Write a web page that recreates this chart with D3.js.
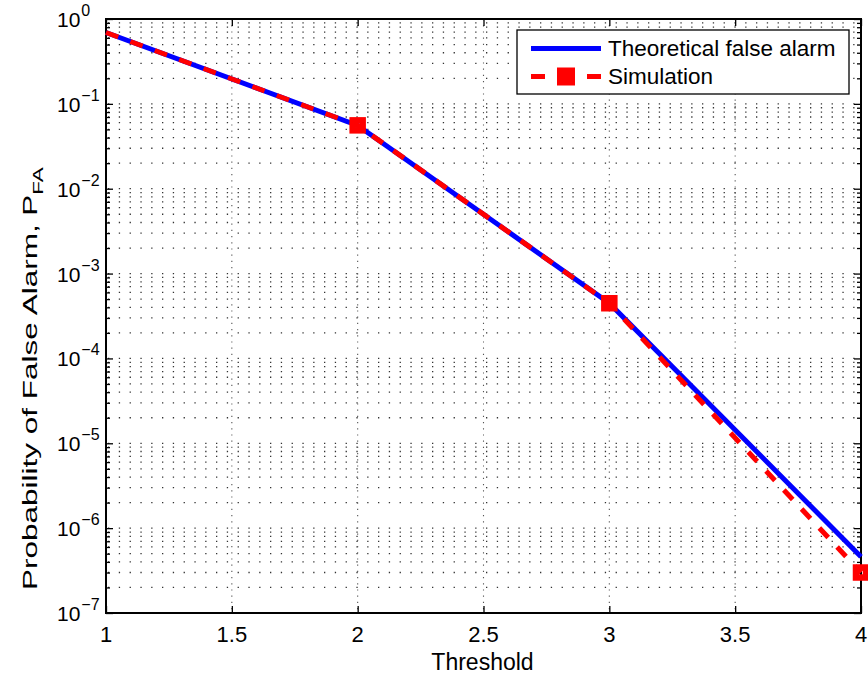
<!DOCTYPE html>
<html>
<head>
<meta charset="utf-8" />
<title>Probability of False Alarm</title>
<script src="https://d3js.org/d3.v7.min.js"></script>
<style>
  body { margin: 0; background: #fff; }
  text { font-family: "Liberation Sans", Arial, Helvetica, sans-serif; fill: #000; }
</style>
</head>
<body>
<div id="chart"></div>
<script>

// values
const thresholds = [1, 2, 3, 4];
const theoretical = [0.693, 0.0558, 4.47e-4, 4.6e-7];
const simulation = [0.693, 0.0558, 4.47e-4, 3.0e-7];
const markerThresholds = [2, 3, 4];
const xTicks = [1, 1.5, 2, 2.5, 3, 3.5, 4];
const yDecades = [0, -1, -2, -3, -4, -5, -6, -7];
const seriesNames = ["Theoretical false alarm", "Simulation"];

const W = 868, H = 679;
const margin = {top: 19, right: 7, bottom: 66, left: 106};
const width = W - margin.left - margin.right,
      height = H - margin.top - margin.bottom;

const svg = d3.select("#chart")
    .append("svg")
        .attr("width", W)
        .attr("height", H);

const x = d3.scaleLinear().domain([1, 4]).range([margin.left, margin.left + width]);
const y = d3.scaleLog().domain([1e-7, 1]).range([margin.top + height, margin.top]);

const yAll = y.ticks();
const isMajor = v => Math.abs(Math.log10(v) - Math.round(Math.log10(v))) < 1e-9;

// grid
const grid = svg.append("g");
grid.selectAll(".hg")
    .data(yAll)
    .join("line")
        .attr("x1", margin.left + 2).attr("x2", margin.left + width)
        .attr("y1", d => y(d)).attr("y2", d => y(d))
        .attr("stroke", "#333")
        .attr("stroke-width", 1.3)
        .attr("stroke-dasharray", "1.3,9.5");
grid.selectAll(".vg")
    .data(xTicks.slice(1, -1))
    .join("line")
        .attr("x1", d => x(d)).attr("x2", d => x(d))
        .attr("y1", margin.top).attr("y2", margin.top + height)
        .attr("stroke", "#555")
        .attr("stroke-width", 1.1)
        .attr("stroke-dasharray", "1.2,5");

// axes with inward ticks
const axes = svg.append("g");
axes.append("g")
    .attr("transform", `translate(0,${margin.top + height})`)
    .call(d3.axisBottom(x).tickValues(xTicks).tickSize(-7).tickFormat(""));
axes.append("g")
    .attr("transform", `translate(0,${margin.top})`)
    .call(d3.axisTop(x).tickValues(xTicks).tickSize(-7).tickFormat(""));
axes.append("g")
    .attr("transform", `translate(${margin.left},0)`)
    .call(d3.axisLeft(y).tickValues(yAll.filter(isMajor)).tickSize(-7).tickFormat(""));
axes.append("g")
    .attr("transform", `translate(${margin.left},0)`)
    .call(d3.axisLeft(y).tickValues(yAll.filter(v => !isMajor(v))).tickSize(-4).tickFormat(""));
axes.append("g")
    .attr("transform", `translate(${margin.left + width},0)`)
    .call(d3.axisRight(y).tickValues(yAll.filter(isMajor)).tickSize(-7).tickFormat(""));
axes.append("g")
    .attr("transform", `translate(${margin.left + width},0)`)
    .call(d3.axisRight(y).tickValues(yAll.filter(v => !isMajor(v))).tickSize(-4).tickFormat(""));
axes.selectAll(".domain").remove();
axes.selectAll(".tick line").attr("stroke", "#000").attr("stroke-width", 1.3);

// frame
svg.append("rect")
    .attr("x", margin.left).attr("y", margin.top)
    .attr("width", width).attr("height", height)
    .attr("fill", "none")
    .attr("stroke", "#000")
    .attr("stroke-width", 2);

// tick labels
svg.append("g").selectAll("text")
    .data(xTicks)
    .join("text")
        .attr("x", d => x(d))
        .attr("y", margin.top + height + 29)
        .attr("text-anchor", "middle")
        .style("font-size", "22px")
        .text(d => d);

const yl = svg.append("g").selectAll("text")
    .data(yDecades)
    .join("text")
        .attr("x", 57)
        .attr("y", d => y(Math.pow(10, d)) + 8)
        .style("font-size", "21px");
yl.append("tspan").text("10");
yl.append("tspan")
    .attr("dy", -11)
    .attr("dx", 1)
    .style("font-size", "16px")
    .text(d => d === 0 ? "0" : "\u2212" + (-d));

// axis titles
svg.append("text")
    .attr("x", margin.left + width / 2 - 1)
    .attr("y", 670)
    .attr("text-anchor", "middle")
    .style("font-size", "23px")
    .text("Threshold");

const ylab = svg.append("text")
    .attr("transform", `translate(37,590) rotate(-90) scale(1.5,1)`)
    .attr("text-anchor", "start")
    .style("font-size", "21px");
ylab.append("tspan").text("Probability of False Alarm, P");
ylab.append("tspan")
    .attr("dy", 6)
    .style("font-size", "15px")
    .text("FA");

// lines
const line = d3.line()
    .x(d => x(d[0]))
    .y(d => y(d[1]));

svg.append("path")
    .datum(d3.zip(thresholds, theoretical))
    .attr("d", line)
    .attr("fill", "none")
    .attr("stroke", "#0000ff")
    .attr("stroke-width", 5);

svg.append("path")
    .datum(d3.zip(thresholds, simulation))
    .attr("d", line)
    .attr("fill", "none")
    .attr("stroke", "#ff0000")
    .attr("stroke-width", 5)
    .attr("stroke-dasharray", "13,13");

svg.append("g").selectAll("rect")
    .data(markerThresholds)
    .join("rect")
        .attr("x", d => x(d) - 5)
        .attr("y", d => y(simulation[thresholds.indexOf(d)]) - 5)
        .attr("width", 10)
        .attr("height", 10)
        .attr("fill", "none")
        .attr("stroke", "#ff0000")
        .attr("stroke-width", 6.5);

// legend
const lg = svg.append("g");
lg.append("rect")
    .attr("x", 517).attr("y", 30)
    .attr("width", 332).attr("height", 64)
    .attr("fill", "#fff")
    .attr("stroke", "#000")
    .attr("stroke-width", 1.3);
lg.append("line")
    .attr("x1", 531).attr("x2", 601)
    .attr("y1", 48.5).attr("y2", 48.5)
    .attr("stroke", "#0000ff").attr("stroke-width", 5);
lg.append("line")
    .attr("x1", 531).attr("x2", 601)
    .attr("y1", 76.5).attr("y2", 76.5)
    .attr("stroke", "#ff0000").attr("stroke-width", 5)
    .attr("stroke-dasharray", "14,14");
lg.append("rect")
    .attr("x", 557).attr("y", 67.5)
    .attr("width", 18).attr("height", 18)
    .attr("fill", "#ff0000");
lg.selectAll("text.lab")
    .data(seriesNames)
    .join("text")
        .attr("x", 608)
        .attr("y", (d, i) => 56 + i * 28)
        .style("font-size", "22.5px")
        .text(d => d);

</script>
</body>
</html>
